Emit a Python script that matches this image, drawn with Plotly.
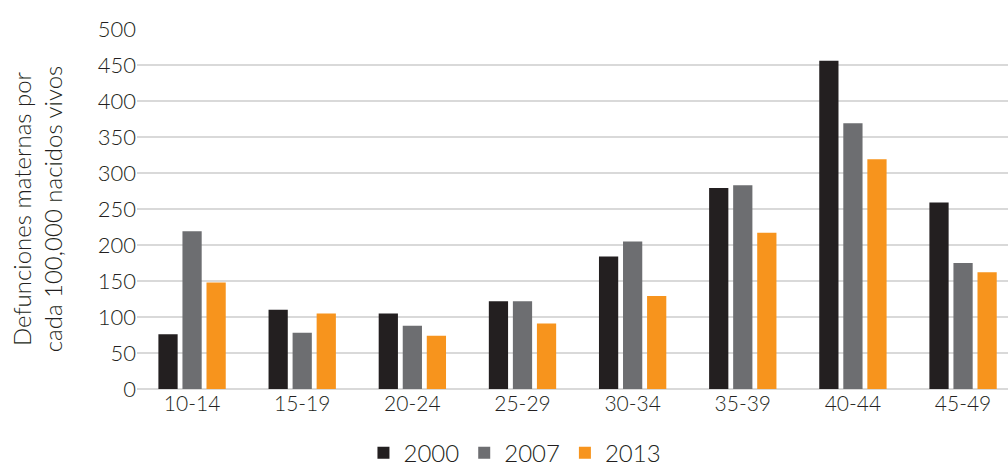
import plotly.graph_objects as go

# Age groups and maternal mortality ratios (per 100,000 live births)
age_groups = ["10-14", "15-19", "20-24", "25-29", "30-34", "35-39", "40-44", "45-49"]
values_2000 = [76, 110, 105, 122, 184, 279, 456, 259]
values_2007 = [219, 78, 88, 122, 205, 283, 369, 175]
values_2013 = [148, 105, 74, 91, 129, 217, 319, 162]

series = [
    ("2000", values_2000, "#231f20"),
    ("2007", values_2007, "#6d6e71"),
    ("2013", values_2013, "#f7941d"),
]

FONT = "Lato"
TEXT_COLOR = "#231f20"

fig = go.Figure()
for name, vals, color in series:
    fig.add_trace(go.Bar(
        x=age_groups,
        y=vals,
        name=name,
        marker=dict(color=color, line=dict(width=0)),
        hoverinfo="x+y+name",
    ))

fig.update_layout(
    width=1008,
    height=466,
    margin=dict(l=137, r=0, t=29, b=77, autoexpand=False),
    paper_bgcolor="white",
    plot_bgcolor="white",
    barmode="group",
    bargap=0.345,
    bargroupgap=0.2,
    font=dict(family=FONT, size=21, color=TEXT_COLOR, weight=300),
    showlegend=True,
    legend=dict(
        orientation="h",
        x=0.26,
        xanchor="left",
        y=-0.178,
        yanchor="middle",
        font=dict(family=FONT, size=24, color=TEXT_COLOR, weight=300),
        itemwidth=30,
        tracegroupgap=0,
        traceorder="normal",
    ),
)

fig.update_xaxes(
    type="category",
    range=[-0.5, 7.408],
    showgrid=False,
    showline=False,
    ticks="",
    tickfont=dict(family=FONT, size=21, color=TEXT_COLOR, weight=300),
)

fig.update_yaxes(
    range=[0, 500],
    dtick=50,
    tick0=0,
    showgrid=True,
    gridcolor="#d9d9d9",
    gridwidth=1.5,
    zeroline=True,
    zerolinecolor="#d9d9d9",
    zerolinewidth=1.5,
    showline=False,
    ticks="",
    tickfont=dict(family=FONT, size=22, color=TEXT_COLOR, weight=300),
    title=dict(
        text="Defunciones maternas por<br>cada 100,000 nacidos vivos",
        font=dict(family=FONT, size=24, color=TEXT_COLOR, weight=300),
        standoff=28,
    ),
)

fig.write_html("out.html")
